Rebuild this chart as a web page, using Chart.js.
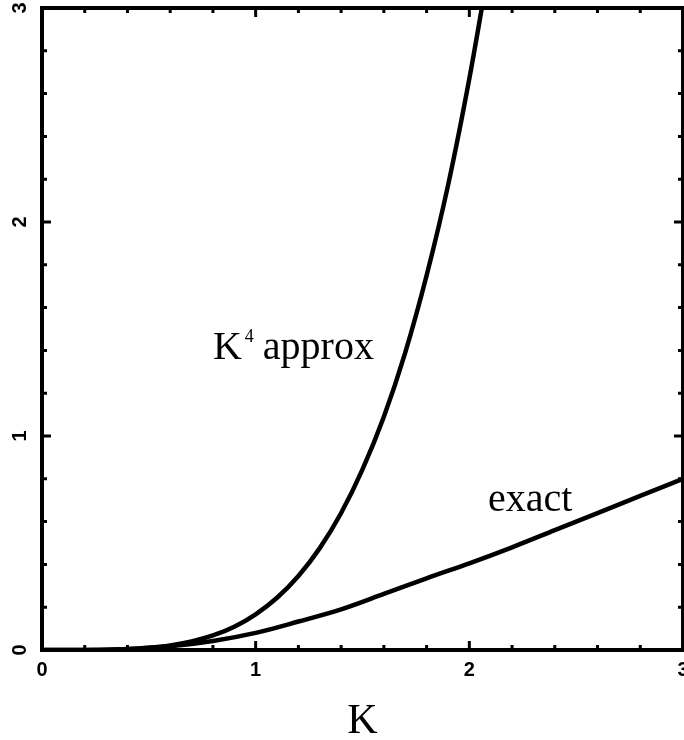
<!DOCTYPE html>
<html>
<head>
<meta charset="utf-8">
<script src="https://cdn.jsdelivr.net/npm/chart.js@4"></script>
<style>
html,body{margin:0;padding:0;background:#fff;}
#wrap{width:684px;height:740px;}
</style>
</head>
<body>
<div id="wrap"><canvas id="c" width="684" height="740"></canvas></div>
<script>
// ---- data ----
const kApprox = [0,0.1,0.2,0.3,0.4,0.5,0.6,0.7,0.8,0.9,1.0,1.1,1.2,1.3,1.4,1.5,1.6,1.7,1.8,1.9,2.0,2.1];
const approxVals = [0,0.00002,0.0003,0.0014,0.0043,0.0104,0.0216,0.040,0.068,0.109,0.167,0.244,0.346,0.476,0.640,0.844,1.09,1.39,1.75,2.17,2.67,3.24];
const kExact = [0,0.2,0.4,0.6,0.8,1.0,1.2,1.4,1.6,1.8,2.0,2.2,2.4,2.6,2.8,3.0];
const exactVals = [0,0.0003,0.004,0.017,0.042,0.08,0.133,0.19,0.262,0.335,0.405,0.48,0.56,0.64,0.72,0.80];
const xTickLabels = ['0','1','2','3'];
const yTickLabels = ['0','1','2','3'];
const majorTicks = [0,1,2,3];
const minorTicks = [0.2,0.4,0.6,0.8,1.2,1.4,1.6,1.8,2.2,2.4,2.6,2.8];
const seriesNames = ['K4 approx','exact'];
const xTitle = 'K';
const approxLabelMain = 'K';
const approxLabelSup = '4';
const approxLabelRest = ' approx';
const exactLabel = 'exact';

const toPts = (xs, ys) => xs.map((x, i) => ({x: x, y: ys[i]}));

const framePlugin = {
  id: 'frame',
  afterDatasetsDraw(chart) {
    const {ctx, chartArea: a, scales: {x, y}} = chart;
    ctx.save();
    ctx.strokeStyle = '#000';
    ctx.fillStyle = '#000';
    // frame
    ctx.lineWidth = 4;
    ctx.strokeRect(a.left, a.top, a.right - a.left, a.bottom - a.top);
    // ticks
    ctx.lineWidth = 3;
    const drawTicks = (vals, len) => {
      vals.forEach(v => {
        const px = x.getPixelForValue(v);
        ctx.beginPath();
        ctx.moveTo(px, a.bottom); ctx.lineTo(px, a.bottom - len);
        ctx.moveTo(px, a.top); ctx.lineTo(px, a.top + len);
        ctx.stroke();
        const py = y.getPixelForValue(v);
        ctx.beginPath();
        ctx.moveTo(a.left, py); ctx.lineTo(a.left + len, py);
        ctx.moveTo(a.right, py); ctx.lineTo(a.right - len, py);
        ctx.stroke();
      });
    };
    drawTicks(majorTicks, 9);
    drawTicks(minorTicks, 5);
    // y tick labels (rotated)
    ctx.font = 'bold 20px "Liberation Sans", Arial, sans-serif';
    ctx.textAlign = 'center';
    ctx.textBaseline = 'middle';
    majorTicks.forEach((v, i) => {
      const py = y.getPixelForValue(v);
      ctx.save();
      ctx.translate(19, py);
      ctx.rotate(-Math.PI / 2);
      ctx.fillText(yTickLabels[i], 0, 1);
      ctx.restore();
    });
    // annotations
    ctx.textAlign = 'left';
    ctx.textBaseline = 'alphabetic';
    ctx.font = '40px "Liberation Serif", "Times New Roman", serif';
    let ax = x.getPixelForValue(0.80), ay = y.getPixelForValue(1.358);
    ctx.fillText(approxLabelMain, ax, ay);
    let w = ctx.measureText(approxLabelMain).width;
    ctx.font = '18px "Liberation Serif", "Times New Roman", serif';
    ctx.fillText(approxLabelSup, ax + w + 3, ay - 17);
    let w2 = ctx.measureText(approxLabelSup).width;
    ctx.font = '40px "Liberation Serif", "Times New Roman", serif';
    ctx.fillText(approxLabelRest, ax + w + 2 + w2, ay);
    ctx.fillText(exactLabel, x.getPixelForValue(2.087), y.getPixelForValue(0.649));
    ctx.restore();
  }
};

new Chart(document.getElementById('c'), {
  type: 'line',
  data: {
    datasets: [
      {label: seriesNames[0], data: toPts(kApprox, approxVals), borderColor: '#000', borderWidth: 4.5, pointRadius: 0, cubicInterpolationMode: 'monotone', fill: false},
      {label: seriesNames[1], data: toPts(kExact, exactVals), borderColor: '#000', borderWidth: 4.5, pointRadius: 0, cubicInterpolationMode: 'monotone', fill: false}
    ]
  },
  options: {
    responsive: false,
    animation: false,
    events: [],
    layout: {padding: {left: 0, top: 8, right: 1, bottom: 0}},
    plugins: {legend: {display: false}, tooltip: {enabled: false}},
    scales: {
      x: {
        type: 'linear', min: 0, max: 3,
        afterFit: s => { s.height = 90; s.paddingLeft = 0; s.paddingRight = 0; },
        grid: {display: false, drawTicks: false},
        border: {display: false},
        ticks: {
          stepSize: 1, padding: 8, color: '#000',
          font: {family: '"Liberation Sans", Arial, sans-serif', size: 20, weight: 'bold'},
          callback: (v) => xTickLabels[majorTicks.indexOf(v)]
        },
        title: {
          display: true, text: xTitle, color: '#000',
          font: {family: '"Liberation Serif", "Times New Roman", serif', size: 42, lineHeight: 0.86},
          padding: {top: 0, bottom: 0}
        }
      },
      y: {
        type: 'linear', min: 0, max: 3,
        afterFit: s => { s.width = 42; s.paddingTop = 0; s.paddingBottom = 0; },
        grid: {display: false, drawTicks: false},
        border: {display: false},
        ticks: {display: false, stepSize: 1}
      }
    }
  },
  plugins: [framePlugin]
});
</script>
</body>
</html>
